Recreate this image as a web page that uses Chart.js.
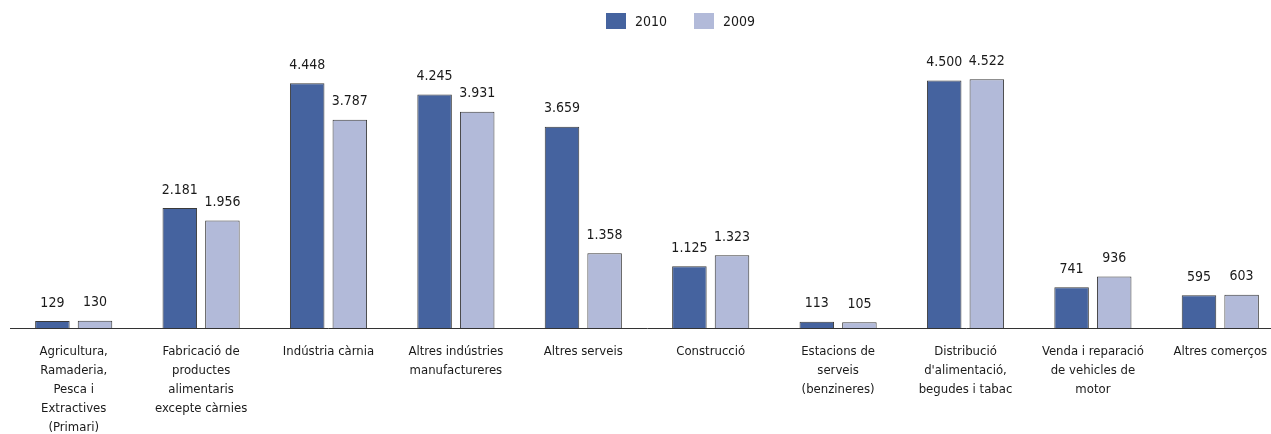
<!DOCTYPE html>
<html>
<head>
<meta charset="utf-8">
<script src="https://cdn.jsdelivr.net/npm/chart.js@4"></script>
<style>
  html, body { margin: 0; padding: 0; background: #fff; overflow: hidden; }
  #wrap { width: 1284px; height: 434px; position: relative; }
</style>
</head>
<body>
<div id="wrap"><canvas id="chart"></canvas></div>
<script>
// Sectors (multi-line labels under the axis)
const categories = [
  ['Agricultura,', 'Ramaderia,', 'Pesca i', 'Extractives', '(Primari)'],
  ['Fabricació de', 'productes', 'alimentaris', 'excepte càrnies'],
  ['Indústria càrnia'],
  ['Altres indústries', 'manufactureres'],
  ['Altres serveis'],
  ['Construcció'],
  ['Estacions de', 'serveis', '(benzineres)'],
  ['Distribució', "d'alimentació,", 'begudes i tabac'],
  ['Venda i reparació', 'de vehicles de', 'motor'],
  ['Altres comerços']
];

const seriesLabels = ['2010', '2009'];
const values2010 = [129, 2181, 4448, 4245, 3659, 1125, 113, 4500, 741, 595];
const values2009 = [130, 1956, 3787, 3931, 1358, 1323, 105, 4522, 936, 603];

const colors = ['#45639f', '#b2bad9'];
const FONT = "'Liberation Sans Narrow', 'DejaVu Sans Condensed', 'Arial Narrow', sans-serif";

// thousands separator with a dot
function fmt(v) {
  return String(v).replace(/\B(?=(\d{3})+(?!\d))/g, '.');
}

// value labels above each bar
const valueLabels = {
  id: 'valueLabels',
  afterDatasetsDraw(chart) {
    const ctx = chart.ctx;
    ctx.save();
    ctx.font = '14px ' + FONT;
    ctx.fillStyle = '#1a1a1a';
    ctx.textAlign = 'center';
    ctx.textBaseline = 'middle';
    chart.data.datasets.forEach((ds, i) => {
      chart.getDatasetMeta(i).data.forEach((bar, j) => {
        ctx.fillText(fmt(ds.data[j]), bar.x, bar.y - 18);
      });
    });
    ctx.restore();
  }
};

// legend row at the top
const topLegend = {
  id: 'topLegend',
  afterDraw(chart) {
    const ctx = chart.ctx;
    ctx.save();
    ctx.font = '14px ' + FONT;
    ctx.textBaseline = 'middle';
    ctx.textAlign = 'left';
    let x = 606;
    chart.data.datasets.forEach((ds) => {
      ctx.fillStyle = ds.backgroundColor;
      ctx.fillRect(x, 13, 20, 16);
      ctx.fillStyle = '#1a1a1a';
      ctx.fillText(ds.label, x + 29, 22);
      x += 88;
    });
    ctx.restore();
  }
};

new Chart(document.getElementById('chart'), {
  type: 'bar',
  data: {
    labels: categories,
    datasets: [
      {
        label: seriesLabels[0],
        data: values2010,
        backgroundColor: colors[0],
        borderColor: '#3a3a3a',
        borderWidth: 1
      },
      {
        label: seriesLabels[1],
        data: values2009,
        backgroundColor: colors[1],
        borderColor: '#3a3a3a',
        borderWidth: 1
      }
    ]
  },
  options: {
    responsive: true,
    maintainAspectRatio: false,
    animation: false,
    layout: { padding: { top: 53, left: 10, right: 0, bottom: 0 } },
    datasets: {
      bar: { categoryPercentage: 0.669, barPercentage: 0.81 }
    },
    plugins: {
      legend: { display: false },
      tooltip: { enabled: false }
    },
    scales: {
      x: {
        grid: { display: false, drawTicks: false },
        border: { display: true, color: '#333333', width: 1 },
        ticks: {
          color: '#1a1a1a',
          padding: 14.5,
          maxRotation: 0,
          autoSkip: false,
          font: { family: FONT, size: 13, lineHeight: '19px' }
        },
        afterFit(scale) { scale.height = 106; }
      },
      y: {
        display: false,
        min: 0,
        max: 5000
      }
    }
  },
  plugins: [valueLabels, topLegend]
});
</script>
</body>
</html>
